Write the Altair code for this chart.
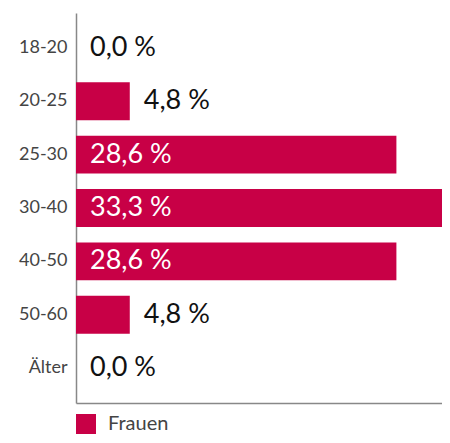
import altair as alt
import pandas as pd

categories = ["18-20", "20-25", "25-30", "30-40", "40-50", "50-60", "Älter"]
values = [0.0, 4.8, 28.6, 33.3, 28.6, 4.8, 0.0]
series_name = "Frauen"

labels = [f"{v:.1f}".replace(".", ",") + " %" for v in values]
df = pd.DataFrame({"cat": categories, "value": values, "label": labels, "series": series_name})

FONT = "Lato"
RED = "#c80046"

y = alt.Y("cat:N", sort=categories, title=None,
          scale=alt.Scale(paddingInner=0.29, paddingOuter=0.3),
          axis=alt.Axis(ticks=False, labelFontSize=18, labelColor="#444", labelFont=FONT,
                        labelPadding=9, domainColor="#888", domainWidth=1.5))
x = alt.X("value:Q", title=None, scale=alt.Scale(domain=[0, 32.67], nice=False),
          axis=alt.Axis(labels=False, ticks=False, grid=False, domainColor="#888", domainWidth=1.5))

bars = alt.Chart(df).mark_bar(cornerRadius=0).encode(
    x=x, y=y,
    color=alt.Color("series:N", scale=alt.Scale(range=[RED]),
                    legend=alt.Legend(title=None, orient="none", legendX=0, legendY=401,
                                      symbolType="square", symbolSize=400, symbolStrokeWidth=0,
                                      labelFontSize=20, labelFont=FONT, labelColor="#444",
                                      labelOffset=12)),
)

text = alt.Chart(df).transform_calculate(
    pos="datum.value > 10 ? 0 : datum.value"
).mark_text(align="left", baseline="middle", dx=14, fontSize=27, font=FONT).encode(
    x=alt.X("pos:Q"), y=alt.Y("cat:N", sort=categories),
    text="label:N",
    color=alt.condition("datum.value > 10", alt.value("white"), alt.value("#111")),
)

chart = alt.layer(bars, text).properties(
    width=366, height=390,
    autosize=alt.AutoSizeParams(type="none"),
    padding={"left": 68, "top": 5, "right": 0, "bottom": 32},
).configure_view(stroke=None)

chart.save("out.html", embed_options={"renderer": "svg", "actions": False})
